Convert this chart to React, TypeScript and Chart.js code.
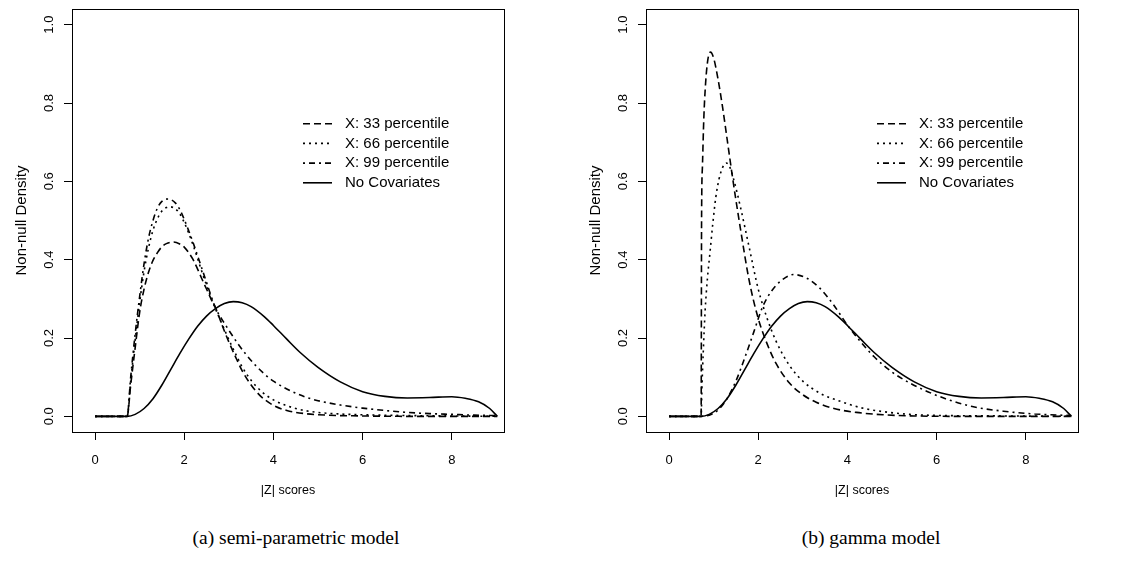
import React, { useEffect, useRef } from "react";
import { Chart, registerables } from "chart.js";

Chart.register(...registerables);

// ---------- data ----------
const legendLabels = ["X: 33 percentile", "X: 66 percentile", "X: 99 percentile", "No Covariates"];
const xTicks = [0, 2, 4, 6, 8];
const yTicks = [0, 0.2, 0.4, 0.6, 0.8, 1.0];
const captions = ["(a) semi-parametric model", "(b) gamma model"];
const xTitle = "|Z| scores";
const yTitle = "Non-null Density";

// No covariates (same curve in both panels)
const noCovX = [0, 0.72, 0.9, 1.1, 1.3, 1.5, 1.7, 1.9, 2.1, 2.3, 2.5, 2.7, 2.9, 3.1, 3.3, 3.5, 3.8, 4.0, 4.3, 4.6, 5.0, 5.5, 6.0, 6.5, 7.0, 7.5, 8.0, 8.3, 8.6, 8.85, 9.02];
const noCovY = [0, 0, 0.005, 0.02, 0.045, 0.08, 0.12, 0.16, 0.197, 0.23, 0.256, 0.275, 0.288, 0.293, 0.29, 0.28, 0.254, 0.232, 0.197, 0.163, 0.125, 0.088, 0.063, 0.051, 0.047, 0.048, 0.05, 0.046, 0.037, 0.02, 0];

// (a) semi-parametric model
const semi33X = [0, 0.72, 0.8, 0.9, 1.0, 1.1, 1.2, 1.3, 1.4, 1.5, 1.6, 1.76, 1.9, 2.0, 2.1, 2.2, 2.3, 2.4, 2.5, 2.6, 2.71, 2.8, 2.9, 3.0, 3.15, 3.3, 3.5, 3.7, 4.0, 4.3, 4.7, 5.2, 6.0, 7.0, 9.02];
const semi33Y = [0, 0, 0.08, 0.175, 0.265, 0.325, 0.368, 0.398, 0.418, 0.433, 0.441, 0.445, 0.44, 0.432, 0.418, 0.4, 0.376, 0.35, 0.325, 0.3, 0.275, 0.248, 0.218, 0.19, 0.152, 0.116, 0.08, 0.053, 0.028, 0.015, 0.007, 0.003, 0.001, 0, 0];

const semi66X = [0, 0.72, 0.8, 0.9, 1.0, 1.1, 1.2, 1.3, 1.4, 1.5, 1.6, 1.68, 1.8, 1.9, 2.0, 2.1, 2.2, 2.3, 2.4, 2.5, 2.6, 2.71, 2.8, 2.9, 3.0, 3.15, 3.3, 3.5, 3.75, 4.0, 4.5, 5.0, 5.5, 6.0, 7.0, 8.0, 9.02];
const semi66Y = [0, 0, 0.09, 0.195, 0.29, 0.37, 0.43, 0.475, 0.505, 0.524, 0.533, 0.535, 0.53, 0.517, 0.495, 0.468, 0.437, 0.403, 0.368, 0.335, 0.303, 0.272, 0.248, 0.222, 0.196, 0.16, 0.126, 0.092, 0.062, 0.042, 0.02, 0.01, 0.006, 0.004, 0.002, 0.001, 0];

const semi99X = [0, 0.72, 0.8, 0.9, 1.0, 1.1, 1.2, 1.3, 1.4, 1.5, 1.64, 1.8, 1.9, 2.0, 2.1, 2.2, 2.3, 2.4, 2.5, 2.6, 2.71, 2.8, 2.9, 3.0, 3.2, 3.4, 3.6, 3.8, 4.0, 4.3, 4.7, 5.0, 5.5, 6.0, 6.5, 7.0, 7.5, 8.0, 8.5, 9.02];
const semi99Y = [0, 0, 0.1, 0.21, 0.305, 0.39, 0.455, 0.5, 0.532, 0.549, 0.555, 0.545, 0.528, 0.503, 0.474, 0.443, 0.41, 0.376, 0.342, 0.308, 0.275, 0.256, 0.238, 0.22, 0.186, 0.156, 0.13, 0.108, 0.09, 0.07, 0.05, 0.04, 0.029, 0.021, 0.015, 0.01, 0.007, 0.005, 0.003, 0.002];

// (b) gamma model
const gamma33X = [0, 0.72, 0.73, 0.75, 0.78, 0.82, 0.87, 0.93, 1.0, 1.1, 1.2, 1.3, 1.45, 1.6, 1.8, 2.0, 2.2, 2.4, 2.7, 3.0, 3.3, 3.7, 4.2, 4.8, 5.5, 6.5, 9.02];
const gamma33Y = [0, 0, 0.5, 0.64, 0.76, 0.85, 0.91, 0.93, 0.915, 0.86, 0.79, 0.71, 0.59, 0.48, 0.345, 0.25, 0.185, 0.135, 0.085, 0.055, 0.036, 0.02, 0.01, 0.004, 0.001, 0, 0];

const gamma66X = [0, 0.72, 0.74, 0.77, 0.81, 0.86, 0.92, 0.98, 1.05, 1.12, 1.2, 1.28, 1.35, 1.45, 1.6, 1.8, 2.0, 2.2, 2.4, 2.7, 3.0, 3.4, 3.8, 4.3, 4.8, 5.4, 6.2, 7.5, 9.02];
const gamma66Y = [0, 0, 0.08, 0.17, 0.27, 0.35, 0.42, 0.49, 0.56, 0.605, 0.635, 0.647, 0.64, 0.605, 0.535, 0.43, 0.325, 0.25, 0.192, 0.13, 0.09, 0.058, 0.04, 0.022, 0.012, 0.005, 0.002, 0.001, 0];

const gamma99X = [0, 0.72, 0.9, 1.1, 1.3, 1.5, 1.7, 1.9, 2.1, 2.3, 2.5, 2.8, 3.1, 3.4, 3.7, 4.0, 4.3, 4.6, 5.0, 5.4, 5.8, 6.2, 6.8, 7.5, 8.2, 9.02];
const gamma99Y = [0, 0, 0.003, 0.016, 0.045, 0.09, 0.15, 0.215, 0.28, 0.32, 0.345, 0.362, 0.352, 0.325, 0.283, 0.233, 0.19, 0.152, 0.113, 0.085, 0.063, 0.045, 0.025, 0.013, 0.006, 0.002];

// ---------- styles ----------
const DASHES: number[][] = [[7, 4], [2, 4], [2, 4, 6, 4], []];
const X_MIN = -0.516;
const X_MAX = 9.17;
const Y_MIN = -0.04;
const Y_MAX = 1.04;
const SANS = "'Liberation Sans', Arial, Helvetica, sans-serif";
const CANVAS_H = 510;

const decorPlugin = {
  id: "panelDecor",
  afterDraw(chart: any) {
    const { ctx, chartArea: a } = chart;
    const al = (v: number) => Math.round(v - 0.5) + 0.5;
    ctx.save();
    ctx.setLineDash([]);
    ctx.strokeStyle = "#000";
    ctx.lineWidth = 1;
    ctx.strokeRect(al(a.left), al(a.top), al(a.right) - al(a.left), al(a.bottom) - al(a.top));
    // legend
    const lx0 = a.left + 231;
    const lx1 = a.left + 260;
    const tx = a.left + 273;
    const y0 = a.top + 114.7;
    const dy = 19.7;
    ctx.font = `15px ${SANS}`;
    ctx.textBaseline = "middle";
    ctx.textAlign = "left";
    ctx.fillStyle = "#000";
    chart.data.datasets.forEach((ds: any, i: number) => {
      const y = y0 + i * dy;
      ctx.beginPath();
      ctx.setLineDash(ds.borderDash || []);
      ctx.lineWidth = ds.borderWidth;
      ctx.moveTo(lx0, y);
      ctx.lineTo(lx1, y);
      ctx.stroke();
      ctx.setLineDash([]);
      ctx.fillText(ds.label, tx, y);
    });
    ctx.restore();
  },
};

type Series = { x: number[]; y: number[] };

function Panel({ series, left, width, rightPad }: { series: Series[]; left: number; width: number; rightPad: number }) {
  const ref = useRef<HTMLCanvasElement | null>(null);
  useEffect(() => {
    if (!ref.current) return;
    const chart = new Chart(ref.current, {
      type: "line",
      data: {
        datasets: series.map((s, i) => ({
          label: legendLabels[i],
          data: s.x.map((x, j) => ({ x, y: s.y[j] })),
          borderColor: "#000",
          borderWidth: 1.6,
          borderDash: DASHES[i],
          pointRadius: 0,
          fill: false,
          cubicInterpolationMode: "monotone",
        })),
      } as any,
      options: {
        animation: false,
        responsive: false,
        devicePixelRatio: 1,
        events: [],
        layout: { padding: { left: 0, top: 9, right: rightPad, bottom: 0 } },
        plugins: { legend: { display: false }, tooltip: { enabled: false } },
        scales: {
          x: {
            type: "linear",
            position: "bottom",
            min: X_MIN,
            max: X_MAX,
            afterBuildTicks: (s: any) => {
              s.ticks = xTicks.map((v) => ({ value: v }));
            },
            afterFit: (s: any) => {
              s.height = CANVAS_H - 432;
              s.paddingLeft = 0;
              s.paddingRight = 0;
            },
            ticks: {
              color: "#000",
              font: { family: SANS, size: 13 },
              padding: 13,
              autoSkip: false,
              maxRotation: 0,
              minRotation: 0,
              callback: (v: any) => String(v),
            },
            grid: { display: true, drawOnChartArea: false, drawTicks: true, tickLength: 8, color: "#000", lineWidth: 1 },
            border: { display: true, color: "#000", width: 1 },
            title: {
              display: true,
              text: xTitle,
              color: "#000",
              font: { family: SANS, size: 12.5 },
              padding: { top: 0, bottom: 11.5 },
            },
          },
          y: {
            type: "linear",
            position: "left",
            min: Y_MIN,
            max: Y_MAX,
            afterBuildTicks: (s: any) => {
              s.ticks = yTicks.map((v) => ({ value: v }));
            },
            afterFit: (s: any) => {
              s.width = 72;
              s.paddingTop = 0;
              s.paddingBottom = 0;
            },
            ticks: {
              color: "#000",
              font: { family: SANS, size: 13 },
              padding: 5.5,
              autoSkip: false,
              minRotation: 90,
              maxRotation: 90,
              crossAlign: "center",
              callback: (v: any) => Number(v).toFixed(1),
            },
            grid: { display: true, drawOnChartArea: false, drawTicks: true, tickLength: 8, color: "#000", lineWidth: 1 },
            border: { display: true, color: "#000", width: 1 },
            title: {
              display: true,
              text: yTitle,
              color: "#000",
              font: { family: SANS, size: 15 },
              padding: { top: 13, bottom: 0 },
            },
          },
        },
      } as any,
      plugins: [decorPlugin],
    });
    return () => chart.destroy();
  }, []);
  return (
    <canvas
      ref={ref}
      width={width}
      height={CANVAS_H}
      style={{ position: "absolute", left, top: 0, width, height: CANVAS_H }}
    />
  );
}

const semiSeries: Series[] = [
  { x: semi33X, y: semi33Y },
  { x: semi66X, y: semi66Y },
  { x: semi99X, y: semi99Y },
  { x: noCovX, y: noCovY },
];
const gammaSeries: Series[] = [
  { x: gamma33X, y: gamma33Y },
  { x: gamma66X, y: gamma66Y },
  { x: gamma99X, y: gamma99Y },
  { x: noCovX, y: noCovY },
];

const captionStyle = (center: number): React.CSSProperties => ({
  position: "absolute",
  left: center - 200,
  width: 400,
  top: 526,
  height: 24,
  lineHeight: "24px",
  textAlign: "center",
  fontFamily: "'Liberation Serif', 'Times New Roman', serif",
  fontSize: 19.5,
  color: "#000",
  whiteSpace: "nowrap",
});

export default function App() {
  return (
    <div style={{ position: "absolute", left: 0, top: 0, width: 1129, height: 563, background: "#fff", overflow: "hidden" }}>
      <Panel series={semiSeries} left={0} width={574} rightPad={70} />
      <Panel series={gammaSeries} left={574} width={555} rightPad={51} />
      <div style={captionStyle(296)}>{captions[0]}</div>
      <div style={captionStyle(871)}>{captions[1]}</div>
    </div>
  );
}
